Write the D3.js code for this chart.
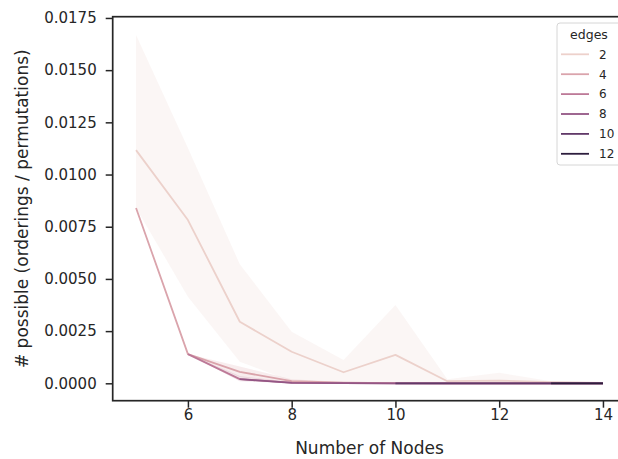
<!DOCTYPE html>
<html>
<head>
<meta charset="utf-8">
<script src="https://cdn.jsdelivr.net/npm/d3@7"></script>
<style>
  body { margin: 0; background: #fff; }
  svg text { font-family: "DejaVu Sans", sans-serif; fill: #262626; }
</style>
</head>
<body>
<svg id="chart" width="618" height="459"></svg>
<script>
// values
const nodes = [5, 6, 7, 8, 9, 10, 11, 12, 13, 14];
const edgeCounts = [2, 4, 6, 8, 10, 12];

const mean2 = [0.01117, 0.00782, 0.00295, 0.00151, 0.00053, 0.00136, 0.00010, 0.00013, 0.00005, 0.00002];
const lo2   = [0.00840, 0.00415, 0.00103, 0.00010, 0.00000, 0.00000, 0.00000, 0.00000, 0.00000, 0.00000];
const hi2   = [0.01668, 0.01127, 0.00570, 0.00247, 0.00112, 0.00375, 0.00020, 0.00050, 0.00010, 0.00005];

const mean4 = [0.00840, 0.00140, 0.00055, 0.00010, 0.00003, 0.00001, 0, 0, 0, 0];
const lo4   = [0.00840, 0.00140, 0.00030, 0.00004, 0, 0, 0, 0, 0, 0];
const hi4   = [0.00840, 0.00140, 0.00080, 0.00020, 0.00006, 0.00002, 0, 0, 0, 0];

const mean6 = [null, 0.00140, 0.00020, 0.00003, 0.00001, 0, 0, 0, 0, 0];
const lo6   = [null, 0.00140, 0.00010, 0, 0, 0, 0, 0, 0, 0];
const hi6   = [null, 0.00140, 0.00035, 0.00006, 0.00002, 0, 0, 0, 0, 0];

const mean8  = [null, null, 0.00020, 0.00002, 0.00001, 0, 0, 0, 0, 0];
const mean10 = [null, null, null, null, null, 0, 0, 0, 0, 0];
const mean12 = [null, null, null, null, null, null, null, null, 0, 0];

const xTicks = [6, 8, 10, 12, 14];
const yTicks = [0, 0.0025, 0.005, 0.0075, 0.01, 0.0125, 0.015, 0.0175];

const series = [
  { edges: 2, mean: mean2, lo: lo2, hi: hi2 },
  { edges: 4, mean: mean4, lo: lo4, hi: hi4 },
  { edges: 6, mean: mean6, lo: lo6, hi: hi6 },
  { edges: 8, mean: mean8 },
  { edges: 10, mean: mean10 },
  { edges: 12, mean: mean12 }
];

// seaborn's default cubehelix map (light .85 -> dark .15)
function cubehelix(t) {
  const start = 0, rot = 0.4, hue = 0.8;
  const a = hue * t * (1 - t) / 2;
  const phi = 2 * Math.PI * (start / 3 + rot * t);
  const f = (p0, p1) => Math.max(0, Math.min(1, t + a * (p0 * Math.cos(phi) + p1 * Math.sin(phi))));
  return d3.rgb(f(-0.14861, 1.78277) * 255, f(-0.29227, -0.90649) * 255, f(1.97294, 0) * 255).formatHex();
}
const color = e => cubehelix(0.85 - 0.7 * (e - 2) / 10);

const svg = d3.select("#chart");
const plotLeft = 112.7, plotRight = 626.3, plotTop = 16.7, plotBottom = 400.7;

const x = d3.scaleLinear().domain([4.55, 14.45]).range([plotLeft, plotRight]);
const y = d3.scaleLinear().domain([-0.000833, 0.01756]).range([plotBottom, plotTop]);

const plot = svg.append("g");

series.forEach(s => {
  const pts = nodes.map((n, i) => ({ n: n, m: s.mean[i], lo: s.lo ? s.lo[i] : null, hi: s.hi ? s.hi[i] : null }))
    .filter(d => d.m !== null);

  plot.append("path")
    .datum(pts)
    .attr("fill", "none")
    .attr("stroke", color(s.edges))
    .attr("stroke-width", 1.8)
    .attr("stroke-linejoin", "round")
    .attr("d", d3.line().x(d => x(d.n)).y(d => y(d.m)));

  if (s.lo) {
    plot.append("path")
      .datum(pts)
      .attr("fill", color(s.edges))
      .attr("fill-opacity", 0.2)
      .attr("d", d3.area().x(d => x(d.n)).y0(d => y(d.lo)).y1(d => y(d.hi)));
  }
});

// axes
const xAxis = svg.append("g")
  .attr("transform", `translate(0,${plotBottom})`)
  .call(d3.axisBottom(x).tickValues(xTicks).tickSize(7).tickPadding(2));
const yAxis = svg.append("g")
  .attr("transform", `translate(${plotLeft},0)`)
  .call(d3.axisLeft(y).tickValues(yTicks).tickFormat(d3.format(".4f")).tickSize(7).tickPadding(9));

[xAxis, yAxis].forEach(g => {
  g.select(".domain").remove();
  g.selectAll(".tick line").attr("stroke", "#262626").attr("stroke-width", 1.5);
  g.selectAll(".tick text").attr("font-size", 15).style("fill", "#262626");
});

// spines (right one is off the edge of the picture)
svg.append("rect")
  .attr("x", plotLeft).attr("y", plotTop)
  .attr("width", plotRight - plotLeft).attr("height", plotBottom - plotTop)
  .attr("fill", "none").attr("stroke", "#262626").attr("stroke-width", 1.7);

svg.append("text")
  .attr("x", (plotLeft + plotRight) / 2).attr("y", 454)
  .attr("text-anchor", "middle").attr("font-size", 17)
  .text("Number of Nodes");

svg.append("text")
  .attr("transform", `translate(28,${(plotTop + plotBottom) / 2}) rotate(-90)`)
  .attr("text-anchor", "middle").attr("font-size", 17)
  .text("# possible (orderings / permutations)");

// legend
const lg = svg.append("g");
lg.append("rect")
  .attr("x", 557).attr("y", 23).attr("width", 66).attr("height", 142).attr("rx", 3)
  .attr("fill", "#fff").attr("fill-opacity", 0.8)
  .attr("stroke", "#d6d6d6").attr("stroke-width", 1);
lg.append("text")
  .attr("x", 589).attr("y", 39)
  .attr("text-anchor", "middle").attr("font-size", 12.5)
  .text("edges");
edgeCounts.forEach((e, i) => {
  const yy = 54.3 + i * 19.9;
  lg.append("line")
    .attr("x1", 561).attr("x2", 589).attr("y1", yy).attr("y2", yy)
    .attr("stroke", color(e)).attr("stroke-width", 1.8);
  lg.append("text")
    .attr("x", 599).attr("y", yy + 4.3)
    .attr("font-size", 12)
    .text(e);
});
</script>
</body>
</html>
